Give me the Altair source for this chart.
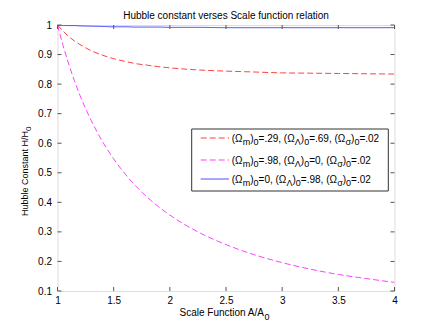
import altair as alt
import pandas as pd

# ---------------- data ----------------
A_VALUES = [1.0, 1.05, 1.1, 1.15, 1.2, 1.3, 1.4, 1.5, 1.6, 1.7, 1.8, 1.9, 2.0,
            2.25, 2.5, 2.75, 3.0, 3.25, 3.5, 3.75, 4.0]
H_RED = [1.0, 0.979, 0.961, 0.946, 0.934, 0.913, 0.898, 0.886, 0.877, 0.869,
         0.864, 0.859, 0.855, 0.848, 0.844, 0.841, 0.838, 0.837, 0.836, 0.835, 0.834]
H_MAGENTA = [1.0, 0.930, 0.868, 0.812, 0.762, 0.677, 0.606, 0.547, 0.497, 0.454,
             0.417, 0.385, 0.357, 0.300, 0.257, 0.223, 0.196, 0.174, 0.156, 0.142, 0.129]
H_BLUE = [1.0, 0.999, 0.998, 0.998, 0.997, 0.996, 0.995, 0.994, 0.994, 0.993,
          0.993, 0.993, 0.992, 0.992, 0.991, 0.991, 0.991, 0.991, 0.991, 0.991, 0.991]

OMEGA_M = [".29", ".98", "0"]
OMEGA_L = [".69", "0", ".98"]
OMEGA_S = [".02", ".02", ".02"]
SERIES = ["red", "magenta", "blue"]
COLORS = ["#ff0000", "#ff00ff", "#0000ff"]
DASHES = [[6, 3], [6, 3], [1, 0]]

X_TICKS = [1, 1.5, 2, 2.5, 3, 3.5, 4]
Y_TICKS = [0.1, 0.2, 0.3, 0.4, 0.5, 0.6, 0.7, 0.8, 0.9, 1.0]

TITLE = "Hubble constant verses Scale function relation"
X_TITLE = "Scale Function A/A"
Y_TITLE = "Hubble Constant H/H"
SUB0 = "0"

# ---------------- layout ----------------
W, H = 337, 266
FONT = "Liberation Sans"
FS = 10
FS_SUB = 9
FS_Y = 9
TICK_COLOR = "#555555"
LINE_OPACITY = 0.75

# Arial / Liberation Sans advance widths (per 1000 em)
ADV = {'(': 333, ')': 333, 'Ω': 768, 'Λ': 667, 'σ': 617, 'm': 833, '0': 556,
       '2': 556, '6': 556, '8': 556, '9': 556, '=': 584, '.': 278, ',': 278,
       ' ': 278, 'S': 667, 'c': 500, 'a': 556, 'l': 222, 'e': 556, 'F': 611,
       'u': 556, 'n': 556, 't': 278, 'i': 222, 'o': 556, 'A': 667, '/': 278,
       'H': 722, 'b': 556, 'C': 722, 's': 500}


def text_width(s, size):
    return sum(ADV.get(ch, 556) for ch in s) * size / 1000.0


one = pd.DataFrame({"k": [0]})

rows = []
for name, ys in zip(SERIES, [H_RED, H_MAGENTA, H_BLUE]):
    for a, h in zip(A_VALUES, ys):
        rows.append({"a": a, "h": h, "series": name})
df = pd.DataFrame(rows)

x_scale = alt.Scale(domain=[1, 4], nice=False, zero=False)
y_scale = alt.Scale(domain=[0.1, 1.0], nice=False, zero=False)
color_scale = alt.Scale(domain=SERIES, range=COLORS)
dash_scale = alt.Scale(domain=SERIES, range=DASHES)
x_axis = alt.Axis(values=X_TICKS, format="~g", title=None, grid=False, ticks=False,
                  domain=False, labelPadding=4, labelFont=FONT, labelFontSize=FS,
                  labelColor="#000000", labelFlush=False)
y_axis = alt.Axis(values=Y_TICKS, format="~g", title=None, grid=False, ticks=False,
                  domain=False, labelPadding=6, labelFont=FONT, labelFontSize=FS,
                  labelColor="#000000", labelFlush=False)


def X(field):
    return alt.X(field, scale=x_scale, axis=x_axis)


def Y(field):
    return alt.Y(field, scale=y_scale, axis=y_axis)


layers = []

lines = alt.Chart(df).mark_line(strokeWidth=1, interpolate="monotone", clip=True,
                                opacity=LINE_OPACITY).encode(
    x=X("a:Q"),
    y=Y("h:Q"),
    color=alt.Color("series:N", scale=color_scale, legend=None),
    strokeDash=alt.StrokeDash("series:N", scale=dash_scale, legend=None),
    order=alt.Order("a:Q"),
)
layers.append(lines)

# inward ticks on all four sides
xt = pd.DataFrame({"a": X_TICKS})
yt = pd.DataFrame({"h": Y_TICKS})
layers.append(alt.Chart(xt).mark_rule(color=TICK_COLOR, strokeWidth=1).encode(
    x=X("a:Q"), y=alt.value(H), y2=alt.value(H - 4)))
layers.append(alt.Chart(xt).mark_rule(color=TICK_COLOR, strokeWidth=1).encode(
    x=X("a:Q"), y=alt.value(0), y2=alt.value(4)))
layers.append(alt.Chart(yt).mark_rule(color=TICK_COLOR, strokeWidth=1).encode(
    y=Y("h:Q"), x=alt.value(0), x2=alt.value(4)))
layers.append(alt.Chart(yt).mark_rule(color=TICK_COLOR, strokeWidth=1).encode(
    y=Y("h:Q"), x=alt.value(W), x2=alt.value(W - 4)))


def text_layer(s, px, py, size=FS, angle=0, align="left"):
    kw = dict(text=s, font=FONT, fontSize=size, color="#000000", align=align,
              baseline="alphabetic")
    if angle:
        kw["angle"] = angle
    return alt.Chart(one).mark_text(**kw).encode(x=alt.value(px), y=alt.value(py))


# title
layers.append(text_layer(TITLE, W / 2, -6.5, align="center"))

# x title with subscript
xw = text_width(X_TITLE, FS) + text_width(SUB0, FS_SUB)
x0 = W / 2 - xw / 2 - 1.5
layers.append(text_layer(X_TITLE, x0, 291))
layers.append(text_layer(SUB0, x0 + text_width(X_TITLE, FS), 294.5, size=FS_SUB))

# y title (rotated) with subscript
ywm = text_width(Y_TITLE, FS_Y)
ystart = 191
layers.append(text_layer(Y_TITLE, -29.5, ystart, size=FS_Y, angle=270))
layers.append(text_layer(SUB0, -26.5, ystart - ywm, size=FS_Y - 1, angle=270))

# legend box
LX0, LX1, LY0, LY1 = 134.2, 330.8, 104, 166
layers.append(alt.Chart(one).mark_rect(fill="#ffffff", stroke="#333333", strokeWidth=1).encode(
    x=alt.value(LX0), x2=alt.value(LX1), y=alt.value(LY0), y2=alt.value(LY1)))

ROW_Y = [113, 135, 154]
for i in range(3):
    cy = ROW_Y[i]
    sample = pd.DataFrame({"series": [SERIES[i]]})
    layers.append(alt.Chart(sample).mark_rule(strokeWidth=1, opacity=LINE_OPACITY).encode(
        x=alt.value(143.2), x2=alt.value(171.5), y=alt.value(cy),
        color=alt.Color("series:N", scale=color_scale, legend=None),
        strokeDash=alt.StrokeDash("series:N", scale=dash_scale, legend=None)))
    pieces = [("(Ω", 0), ("m", 1), (")", 0), ("0", 1),
              ("=" + OMEGA_M[i] + ", (Ω", 0), ("Λ", 1), (")", 0), ("0", 1),
              ("=" + OMEGA_L[i] + ", (Ω", 0), ("σ", 1), (")", 0), ("0", 1),
              ("=" + OMEGA_S[i], 0)]
    px = 174.2
    base = cy + 3.5
    for s, sub in pieces:
        size = FS_SUB if sub else FS
        layers.append(text_layer(s, px, base + (3.5 if sub else 0), size=size))
        px += text_width(s, size)

chart = alt.layer(*layers).properties(
    width=W, height=H,
    autosize=alt.AutoSizeParams(type="none"),
    padding={"left": 49.5, "top": 17, "right": 30, "bottom": 30},
).configure_view(stroke="#222222", strokeWidth=1).configure(background="#ffffff")

chart.save("out.html", embed_options={"renderer": "svg", "actions": False})
